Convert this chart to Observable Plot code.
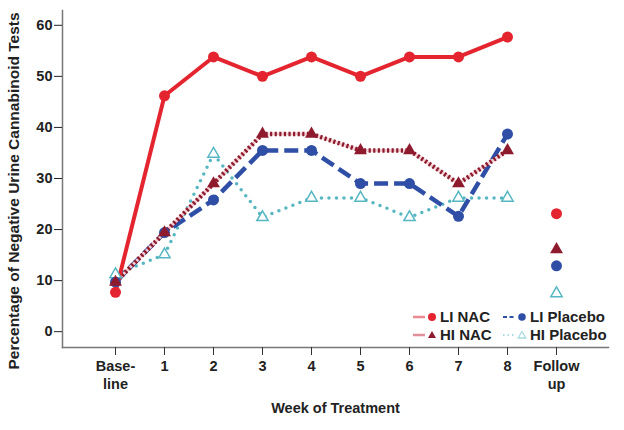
<!DOCTYPE html>
<html>
<head>
<meta charset="utf-8">
<script src="https://cdn.jsdelivr.net/npm/d3@7"></script>
<script src="https://cdn.jsdelivr.net/npm/@observablehq/plot@0.6"></script>
<style>
  html, body { margin: 0; padding: 0; background: #fff; }
  #wrap { position: relative; width: 624px; height: 430px; font-family: "Liberation Sans", Arial, sans-serif; }
  #legend { position: absolute; left: 412px; top: 308px; display: grid; grid-template-columns: 90px 112px; row-gap: 1px;
            font-weight: bold; font-size: 15px; color: #222; }
  #legend .item { display: flex; align-items: center; height: 17px; }
  #legend svg { margin-right: 2px; }
</style>
</head>
<body>
<div id="wrap"></div>
<script>
const weeks = ["Base-\nline", "1", "2", "3", "4", "5", "6", "7", "8", "Follow\nup"];
const yTicks = [0, 10, 20, 30, 40, 50, 60];
const yTitle = "Percentage of Negative Urine Cannabinoid Tests";
const xTitle = "Week of Treatment";
const liNAC     = [7.7, 46.2, 53.8, 50.0, 53.8, 50.0, 53.8, 53.8, 57.7, 23.1];
const hiNAC     = [9.7, 19.4, 29.0, 38.7, 38.7, 35.5, 35.5, 29.0, 35.5, 16.1];
const liPlacebo = [9.7, 19.4, 25.8, 35.5, 35.5, 29.0, 29.0, 22.6, 38.7, 12.9];
const hiPlacebo = [11.2, 15.1, 34.8, 22.4, 26.2, 26.2, 22.4, 26.2, 26.2, 7.5];
const seriesNames = ["LI NAC", "HI NAC", "LI Placebo", "HI Placebo"];

const colors = {"LI NAC": "#e4252f", "HI NAC": "#8e1b2d", "LI Placebo": "#2f4ea6", "HI Placebo": "#56b7c2"};
const seriesVals = {"LI NAC": liNAC, "HI NAC": hiNAC, "LI Placebo": liPlacebo, "HI Placebo": hiPlacebo};

const rows = seriesNames.flatMap(s => weeks.map((w, i) => ({series: s, week: w, i, value: seriesVals[s][i]})));
const trt = s => rows.filter(d => d.series === s && d.i < 9);
const all = s => rows.filter(d => d.series === s);

const chart = Plot.plot({
  width: 624, height: 430,
  marginLeft: 62, marginRight: 16, marginTop: 10, marginBottom: 83,
  x: {type: "point", domain: weeks, padding: 1},
  y: {domain: [-3.1, 62.9]},
  style: {fontFamily: "'Liberation Sans', Arial, sans-serif", fontWeight: "bold", fontSize: "14.5px", color: "#222", background: "#fff"},
  marks: [
    Plot.frame({anchor: "left", stroke: "#777", strokeWidth: 1.5}),
    Plot.frame({anchor: "bottom", stroke: "#777", strokeWidth: 1.5}),
    Plot.axisX({tickSize: 8, tickPadding: 3, fontSize: 14.5, label: xTitle, labelAnchor: "center", labelOffset: 65, lineHeight: 1.25, stroke: "#333"}),
    Plot.axisY({ticks: yTicks, tickSize: 8, tickPadding: 2, fontSize: 14.5, label: null}),
    Plot.text([yTitle], {text: d => d, frameAnchor: "left", textAnchor: "middle", rotate: -90, dx: -48, dy: 12, fontSize: 15.5, fontWeight: "bold", fill: "#222"}),
    // HI Placebo
    Plot.line(trt("HI Placebo"), {x: "week", y: "value", stroke: colors["HI Placebo"], strokeWidth: 3.5, strokeDasharray: "0,7.5", strokeLinecap: "round"}),
    // LI Placebo
    Plot.line(trt("LI Placebo"), {x: "week", y: "value", stroke: colors["LI Placebo"], strokeWidth: 4.5, strokeDasharray: "14,6", strokeLinecap: "butt"}),
    // HI NAC
    Plot.line(trt("HI NAC"), {x: "week", y: "value", stroke: "#f3cdd2", strokeWidth: 3}),
    Plot.line(trt("HI NAC"), {x: "week", y: "value", stroke: colors["HI NAC"], strokeWidth: 4.5, strokeDasharray: "2.2,2.4", strokeLinecap: "butt"}),
    // LI NAC
    Plot.line(trt("LI NAC"), {x: "week", y: "value", stroke: colors["LI NAC"], strokeWidth: 4}),
    // markers
    Plot.dot(all("HI Placebo"), {x: "week", y: "value", symbol: "triangle", r: 4.2, stroke: colors["HI Placebo"], strokeWidth: 1.5, fill: "#fff"}),
    Plot.dot(all("LI Placebo"), {x: "week", y: "value", r: 5.5, fill: colors["LI Placebo"]}),
    Plot.dot(all("HI NAC"), {x: "week", y: "value", symbol: "triangle", r: 4.8, fill: colors["HI NAC"]}),
    Plot.dot(all("LI NAC"), {x: "week", y: "value", r: 5.5, fill: colors["LI NAC"]})
  ]
});
document.getElementById("wrap").appendChild(chart);

// Legend (HTML overlay)
const legendOrder = ["LI NAC", "LI Placebo", "HI NAC", "HI Placebo"];
const legendLine = {
  "LI NAC": `<line x1="1" y1="7" x2="13" y2="7" stroke="#e88a92" stroke-width="2.5"/><circle cx="20" cy="7" r="4" fill="${colors["LI NAC"]}"/>`,
  "LI Placebo": `<line x1="1" y1="7" x2="14" y2="7" stroke="${colors["LI Placebo"]}" stroke-width="2" stroke-dasharray="4,2.5"/><circle cx="20" cy="7" r="3.8" fill="${colors["LI Placebo"]}"/>`,
  "HI NAC": `<line x1="1" y1="7" x2="13" y2="7" stroke="#e0909a" stroke-width="2.5"/><path d="M20,3 L24,10 L16,10 Z" fill="${colors["HI NAC"]}"/>`,
  "HI Placebo": `<line x1="1" y1="7" x2="14" y2="7" stroke="#a8dbe1" stroke-width="2" stroke-dasharray="1.5,3"/><path d="M20,3.5 L23.8,10 L16.2,10 Z" fill="#fff" stroke="#a8dbe1" stroke-width="1.3"/>`
};
const legend = document.createElement("div");
legend.id = "legend";
legend.innerHTML = legendOrder.map(s =>
  `<div class="item"><svg width="26" height="14">${legendLine[s]}</svg><span>${s}</span></div>`).join("");
document.getElementById("wrap").appendChild(legend);
</script>
</body>
</html>
